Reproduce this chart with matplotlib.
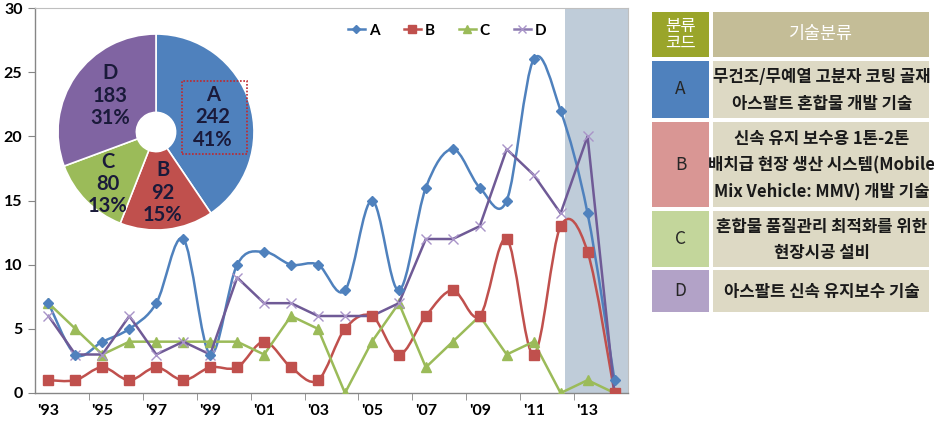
import numpy as np
import matplotlib
matplotlib.use("Agg")
import matplotlib.pyplot as plt
from matplotlib.path import Path
from matplotlib.patches import PathPatch, Rectangle

# ============================================================
# Data
# ============================================================

years = ["'93", "'94", "'95", "'96", "'97", "'98", "'99", "'00", "'01", "'02", "'03",
         "'04", "'05", "'06", "'07", "'08", "'09", "'10", "'11", "'12", "'13", "'14"]

series_a = [7, 3, 4, 5, 7, 12, 3, 10, 11, 10, 10, 8, 15, 8, 16, 19, 16, 15, 26, 22, 14, 1]
series_b = [1, 1, 2, 1, 2, 1, 2, 2, 4, 2, 1, 5, 6, 3, 6, 8, 6, 12, 3, 13, 11, 0]
series_c = [7, 5, 3, 4, 4, 4, 4, 4, 3, 6, 5, 0, 4, 7, 2, 4, 6, 3, 4, 0, 1, 0]
series_d = [6, 3, 3, 6, 3, 4, 3, 9, 7, 7, 6, 6, 6, 7, 12, 12, 13, 19, 17, 14, 20, 0]

pie_names = ["A", "B", "C", "D"]
pie_counts = [242, 92, 80, 183]

codes = ["A", "B", "C", "D"]
descriptions = [
    "무건조/무예열 고분자 코팅 골재\n아스팔트 혼합물 개발 기술",
    "신속 유지 보수용 1톤-2톤\n배치급 현장 생산 시스템(Mobile\nMix Vehicle: MMV) 개발 기술",
    "혼합물 품질관리 최적화를 위한\n현장시공 설비",
    "아스팔트 신속 유지보수 기술",
]

# ============================================================
# Style
# ============================================================

COL_A = "#4F81BD"
COL_B = "#C0504D"
COL_C = "#9BBB59"
COL_D = "#8064A2"

LAT = ["Lato", "DejaVu Sans"]
KR = ["Noto Sans CJK KR", "DejaVu Sans"]

W, H = 934, 424
fig = plt.figure(figsize=(W / 100, H / 100), dpi=100)


def px(x0, y0, x1, y1):
    # pixel box (top-left origin) -> figure fraction rect
    return [x0 / W, 1 - y1 / H, (x1 - x0) / W, (y1 - y0) / H]


# ============================================================
# Line chart
# ============================================================

ax = fig.add_axes(px(35, 8, 628, 393))
x = np.arange(len(years))


def smooth_path(xs, ys):
    # Excel-like smoothed line: cubic Bezier through every point
    pts = np.column_stack([xs, ys]).astype(float)
    n = len(pts)
    verts = [pts[0]]
    codes_ = [Path.MOVETO]
    for i in range(n - 1):
        p0 = pts[i - 1] if i > 0 else pts[i]
        p1 = pts[i]
        p2 = pts[i + 1]
        p3 = pts[i + 2] if i + 2 < n else pts[i + 1]
        c1 = p1 + (p2 - p0) / 6.0
        c2 = p2 - (p3 - p1) / 6.0
        verts += [c1, c2, p2]
        codes_ += [Path.CURVE4] * 3
    return Path(verts, codes_)


ax.axvspan(19.15, 21.5, color="#BFCCD9", zorder=0, lw=0)

ax.add_patch(PathPatch(smooth_path(x, series_a), fill=False, edgecolor=COL_A, lw=1.8, zorder=3))
ax.plot(x, series_a, ls="none", marker="D", ms=5, color=COL_A, zorder=4)

ax.add_patch(PathPatch(smooth_path(x, series_b), fill=False, edgecolor=COL_B, lw=1.8, zorder=3))
ax.plot(x, series_b, ls="none", marker="s", ms=6.5, color=COL_B, zorder=4)

ax.plot(x, series_c, color=COL_C, lw=1.8, marker="^", ms=6.5, zorder=3)
ax.plot(x, series_d, color="#6F5A96", lw=1.8, marker="x", ms=7, mec="#A994C8",
        mew=1.0, zorder=3)

# legend
leg_handles = [
    plt.Line2D([], [], color=COL_A, lw=1.8, marker="D", ms=4),
    plt.Line2D([], [], color=COL_B, lw=1.8, marker="s", ms=5.5),
    plt.Line2D([], [], color=COL_C, lw=1.8, marker="^", ms=5.5),
    plt.Line2D([], [], color="#8C7AB0", lw=1.8, marker="x", ms=6, mec="#A994C8"),
]
ax.legend(leg_handles, ["A", "B", "C", "D"], loc="upper center", bbox_to_anchor=(0.695, 0.995),
          ncol=4, frameon=False, handlelength=1.1, handletextpad=0.25, columnspacing=1.6,
          prop={"family": LAT, "weight": "bold", "size": 11})

ax.set_xlim(-0.5, len(years) - 0.5)
ax.set_ylim(0, 30)
ax.set_yticks(np.arange(0, 31, 5))
ax.set_xticks(x[::2])
ax.set_xticklabels(years[::2])
ax.set_xticks(np.arange(1.5, len(years) - 0.5, 2), minor=True)
ax.tick_params(axis="x", which="major", length=0, pad=8)
ax.tick_params(axis="x", which="minor", length=5, direction="out", color="#868686")
ax.tick_params(axis="y", length=5, direction="out", color="#868686", pad=4)
for lab in ax.get_xticklabels() + ax.get_yticklabels():
    lab.set_family(LAT)
    lab.set_weight("bold")
    lab.set_fontsize(11.5)
for s in ["top", "right"]:
    ax.spines[s].set_color("#BFBFBF")
    ax.spines[s].set_linewidth(0.8)
for s in ["left", "bottom"]:
    ax.spines[s].set_color("#868686")
    ax.spines[s].set_linewidth(1.0)

# ============================================================
# Donut inset
# ============================================================

pax = fig.add_axes(px(58, 34, 254, 230))
pie_colors = [COL_A, COL_B, COL_C, COL_D]
pax.pie(pie_counts, colors=pie_colors, startangle=90, counterclock=False, radius=1.0,
        wedgeprops=dict(width=0.8, edgecolor="white", linewidth=1.2))
pax.set_xlim(-1, 1)
pax.set_ylim(-1, 1)
pax.set_aspect("equal")
pax.axis("off")

total = sum(pie_counts)
label_pos = [(0.58, 0.15), (0.07, -0.62), (-0.49, -0.53), (-0.47, 0.37)]
for name, cnt, (lx, ly) in zip(pie_names, pie_counts, label_pos):
    pct = int(round(cnt / total * 100))
    pax.text(lx, ly, f"{name}\n{cnt}\n{pct}%", ha="center", va="center",
             family=LAT, weight="bold", fontsize=14.5, color="#1A1A3A", linespacing=1.15)
pax.add_patch(Rectangle((0.265, -0.22), 0.665, 0.74, fill=False, edgecolor="#C0282D",
                        lw=1.2, ls=(0, (1, 1))))

# ============================================================
# Table
# ============================================================

tax = fig.add_axes([0, 0, 1, 1])
tax.set_xlim(0, W)
tax.set_ylim(H, 0)
tax.axis("off")

code_x0, code_x1 = 652, 709
desc_x0, desc_x1 = 713, 929
rows = [(12, 57), (61, 118), (122, 207), (211, 267), (270, 312)]
code_colors = ["#9AA52A", "#4F81BD", "#D99694", "#C3D69B", "#B2A2C7"]

# header
y0, y1 = rows[0]
tax.add_patch(Rectangle((code_x0, y0), code_x1 - code_x0, y1 - y0, color=code_colors[0], lw=0))
tax.add_patch(Rectangle((desc_x0, y0), desc_x1 - desc_x0, y1 - y0, color="#C4BD97", lw=0))
tax.text((code_x0 + code_x1) / 2, (y0 + y1) / 2, "분류\n코드", ha="center", va="center",
         family=KR, fontsize=12, color="white", linespacing=1.0)
tax.text((desc_x0 + desc_x1) / 2, (y0 + y1) / 2, "기술분류", ha="center", va="center",
         family=KR, fontsize=12.5, color="white")

for (ry0, ry1), code, desc, cc in zip(rows[1:], codes, descriptions, code_colors[1:]):
    tax.add_patch(Rectangle((code_x0, ry0), code_x1 - code_x0, ry1 - ry0, color=cc, lw=0))
    tax.add_patch(Rectangle((desc_x0, ry0), desc_x1 - desc_x0, ry1 - ry0, color="#DDD9C4", lw=0))
    tax.text((code_x0 + code_x1) / 2, (ry0 + ry1) / 2, code, ha="center", va="center",
             family=KR, fontsize=12.5, color="#262626")
    tax.text((desc_x0 + desc_x1) / 2 + 1, (ry0 + ry1) / 2 + 1, desc, ha="center", va="center",
             family=KR, fontsize=12, weight="bold", color="#1A1A1A", linespacing=1.62)

fig.savefig("out.png", dpi=100)
